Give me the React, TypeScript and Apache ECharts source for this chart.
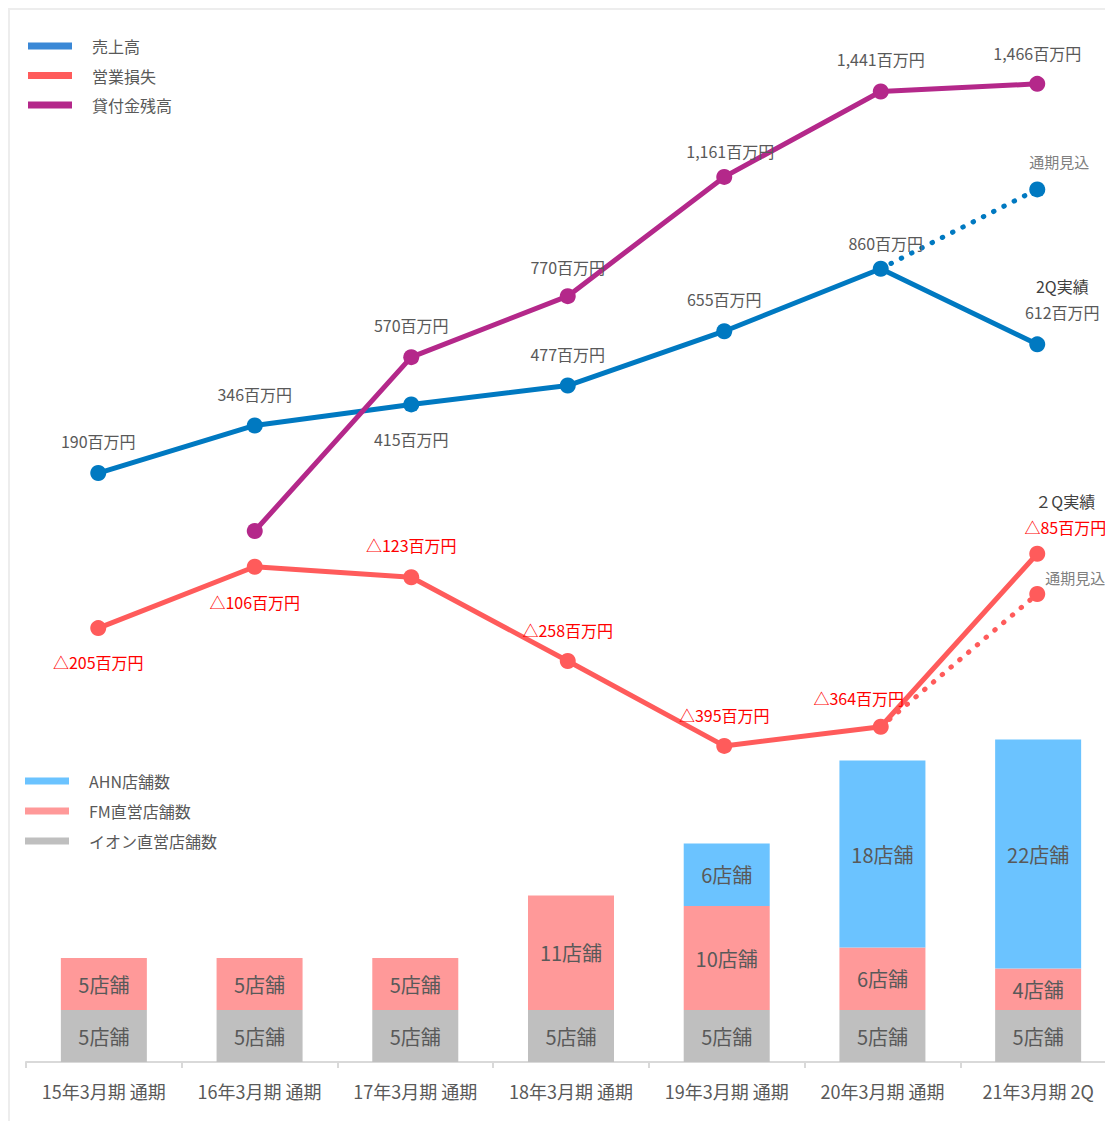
import React, { useEffect, useRef } from "react";
import * as echarts from "echarts";

const categories = [
  "15年3月期 通期",
  "16年3月期 通期",
  "17年3月期 通期",
  "18年3月期 通期",
  "19年3月期 通期",
  "20年3月期 通期",
  "21年3月期 2Q",
];
const sales = [190, 346, 415, 477, 655, 860, 612];
const salesForecast = [null, null, null, null, null, 860, 1120];
const operatingLoss = [-205, -106, -123, -258, -395, -364, -85];
const lossForecast = [null, null, null, null, null, -364, -150];
const loans = [null, 0, 570, 770, 1161, 1441, 1466];
const aeonStores = [5, 5, 5, 5, 5, 5, 5];
const fmStores = [5, 5, 5, 11, 10, 6, 4];
const ahnStores = [null, null, null, null, 6, 18, 22];

// label placement (style)
const salesLabelOffsets = [[0, -32], [0, -31], [0, 35], [0, -32], [0, -32], [5, -26], [25, -45]];
const loanLabelOffsets = [[0, 0], [0, 0], [0, -32], [0, -29], [6, -26], [0, -32], [0, -31]];
const lossLabelOffsets = [[0, 34], [0, 35], [0, -32], [0, -31], [0, -31], [-22, -29], [28, -40]];

const FONT = "'Noto Sans CJK JP', 'Noto Sans', sans-serif";
const GRAY = "#595959";
const RED = "#FF0000";
const SALES_C = "#0079C1";
const LOSS_C = "#FF5B5B";
const LOAN_C = "#B4288A";

const yen = (v: number) => v.toLocaleString("en-US") + "百万円";
const lossTxt = (v: number) => "△" + Math.abs(v) + "百万円";

export default function App() {
  const ref = useRef<HTMLDivElement>(null);
  useEffect(() => {
    if (!ref.current) return;
    const chart = echarts.init(ref.current, null, { renderer: "svg" });
    const last = categories.length - 1;

    const baseLabel = {
      show: true,
      position: "inside",
      fontSize: 16,
      fontFamily: FONT,
      color: GRAY,
    };

    const salesData = sales.map((v, i) => ({
      value: v,
      label:
        i === last
          ? {
              ...baseLabel,
              offset: salesLabelOffsets[i],
              formatter: () => "{a|2Q実績}\n{b|" + yen(v) + "}",
              rich: {
                a: { fontSize: 16, color: "#404040", lineHeight: 26, fontFamily: FONT },
                b: { fontSize: 16, color: GRAY, lineHeight: 26, fontFamily: FONT },
              },
            }
          : { ...baseLabel, offset: salesLabelOffsets[i], formatter: () => yen(v) },
    }));

    const loanData = loans.map((v, i) =>
      v == null
        ? null
        : {
            value: v,
            label: v === 0 ? { show: false } : { ...baseLabel, offset: loanLabelOffsets[i], formatter: () => yen(v) },
          }
    );

    const lossData = operatingLoss.map((v, i) => ({
      value: v,
      label:
        i === last
          ? {
              ...baseLabel,
              offset: lossLabelOffsets[i],
              formatter: () => "{a|２Q実績}\n{r|" + lossTxt(v) + "}",
              rich: {
                a: { fontSize: 16, color: "#404040", lineHeight: 26, fontFamily: FONT },
                r: { fontSize: 16, color: RED, lineHeight: 26, fontFamily: FONT },
              },
            }
          : { ...baseLabel, color: RED, offset: lossLabelOffsets[i], formatter: () => lossTxt(v) },
    }));

    const forecastData = (arr: (number | null)[], off: number[]) =>
      arr.map((v, i) =>
        v == null
          ? null
          : i === last
          ? {
              value: v,
              symbol: "circle",
              symbolSize: 16,
              label: { ...baseLabel, fontSize: 15, color: "#808080", offset: off, formatter: () => "通期見込" },
            }
          : { value: v, symbol: "none", label: { show: false } }
      );

    const barLabel = {
      show: true,
      position: "inside",
      fontSize: 20,
      fontFamily: FONT,
      color: GRAY,
      formatter: (p: any) => p.value + "店舗",
    };

    const legendText = { fontSize: 16, color: GRAY, lineHeight: 20, padding: [0, 0, 0, 15], fontFamily: FONT };

    chart.setOption({
      animation: false,
      textStyle: { fontFamily: FONT },
      legend: [
        {
          orient: "vertical",
          left: 18,
          top: 26,
          padding: 0,
          itemWidth: 44,
          itemHeight: 7,
          itemGap: 9.5,
          icon: "rect",
          selectedMode: false,
          textStyle: legendText,
          data: [
            { name: "売上高", itemStyle: { color: "#3A88D6" } },
            { name: "営業損失", itemStyle: { color: LOSS_C } },
            { name: "貸付金残高", itemStyle: { color: LOAN_C } },
          ],
        },
        {
          orient: "vertical",
          left: 15,
          top: 761,
          padding: 0,
          itemWidth: 44,
          itemHeight: 7,
          itemGap: 10,
          icon: "rect",
          selectedMode: false,
          textStyle: legendText,
          data: ["AHN店舗数", "FM直営店舗数", "イオン直営店舗数"],
        },
      ],
      grid: [
        { left: 10, right: 14.5, top: 33, bottom: 346 },
        { left: 16, right: 14, top: 636, bottom: 59 },
      ],
      xAxis: [
        { type: "category", gridIndex: 0, data: categories, show: false, boundaryGap: true },
        {
          type: "category",
          gridIndex: 1,
          data: categories,
          boundaryGap: true,
          axisLine: { lineStyle: { color: "#D9D9D9", width: 2 } },
          axisTick: { show: true, interval: 0, length: 6, lineStyle: { color: "#D9D9D9", width: 2 } },
          axisLabel: { interval: 0, fontSize: 18, color: GRAY, margin: 20, fontFamily: FONT },
        },
      ],
      yAxis: [
        { type: "value", gridIndex: 0, min: -800, max: 1600, show: false, splitLine: { show: false } },
        { type: "value", gridIndex: 0, min: -441.9, max: 738.7, show: false, splitLine: { show: false } },
        { type: "value", gridIndex: 1, min: 0, max: 40, show: false, splitLine: { show: false } },
      ],
      series: [
        {
          name: "売上高見込",
          type: "line",
          xAxisIndex: 0,
          yAxisIndex: 0,
          data: forecastData(salesForecast, [22, -28]),
          lineStyle: { color: SALES_C, width: 5, type: [0.5, 11], cap: "round" },
          itemStyle: { color: SALES_C },
          z: 2,
        },
        {
          name: "営業損失見込",
          type: "line",
          xAxisIndex: 0,
          yAxisIndex: 1,
          data: forecastData(lossForecast, [38, -17]),
          lineStyle: { color: LOSS_C, width: 5, type: [0.5, 11], cap: "round" },
          itemStyle: { color: LOSS_C },
          z: 2,
        },
        {
          name: "売上高",
          type: "line",
          xAxisIndex: 0,
          yAxisIndex: 0,
          data: salesData,
          symbol: "circle",
          symbolSize: 16,
          lineStyle: { color: SALES_C, width: 5 },
          itemStyle: { color: SALES_C },
          z: 3,
        },
        {
          name: "営業損失",
          type: "line",
          xAxisIndex: 0,
          yAxisIndex: 1,
          data: lossData,
          symbol: "circle",
          symbolSize: 16,
          lineStyle: { color: LOSS_C, width: 5 },
          itemStyle: { color: LOSS_C },
          z: 3,
        },
        {
          name: "貸付金残高",
          type: "line",
          xAxisIndex: 0,
          yAxisIndex: 0,
          data: loanData,
          symbol: "circle",
          symbolSize: 16,
          lineStyle: { color: LOAN_C, width: 5 },
          itemStyle: { color: LOAN_C },
          z: 4,
        },
        {
          name: "イオン直営店舗数",
          type: "bar",
          xAxisIndex: 1,
          yAxisIndex: 2,
          stack: "stores",
          barWidth: 86,
          data: aeonStores,
          itemStyle: { color: "#BFBFBF" },
          label: barLabel,
        },
        {
          name: "FM直営店舗数",
          type: "bar",
          xAxisIndex: 1,
          yAxisIndex: 2,
          stack: "stores",
          barWidth: 86,
          data: fmStores,
          itemStyle: { color: "#FF9999" },
          label: barLabel,
        },
        {
          name: "AHN店舗数",
          type: "bar",
          xAxisIndex: 1,
          yAxisIndex: 2,
          stack: "stores",
          barWidth: 86,
          data: ahnStores,
          itemStyle: { color: "#6BC3FF" },
          label: barLabel,
        },
      ],
    });
    return () => chart.dispose();
  }, []);

  return (
    <div
      style={{
        width: 1105,
        height: 1113,
        overflow: "hidden",
        boxSizing: "border-box",
        borderTop: "2px solid #EDEDED",
        borderLeft: "2px solid #EDEDED",
        background: "#fff",
      }}
    >
      <div ref={ref} style={{ width: 1120, height: 1111 }} />
    </div>
  );
}
